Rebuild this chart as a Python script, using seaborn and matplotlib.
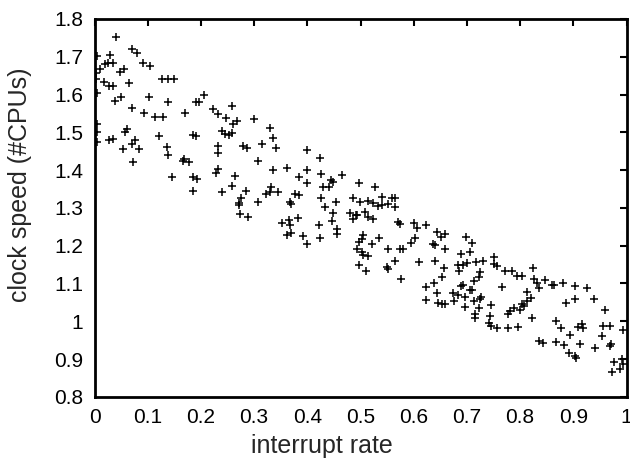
import numpy as np
import matplotlib
matplotlib.use("Agg")
import matplotlib.pyplot as plt
import seaborn as sns
from matplotlib.ticker import FuncFormatter

# values
interrupt_rate = [
    0.040, 0.004, 0.029, 0.070, 0.079, 0.010, 0.020, 0.026, 0.034, 0.003,
    0.003, 0.017, 0.047, 0.055, 0.091, 0.104, 0.027, 0.035, 0.064, 0.127,
    0.138, 0.149, 0.004, 0.039, 0.050, 0.070, 0.103, 0.138, 0.093, 0.114,
    0.128, 0.171, 0.191, 0.197, 0.205, 0.223, 0.233, 0.247, 0.258, 0.261,
    0.267, 0.299, 0.004, 0.004, 0.004, 0.027, 0.035, 0.057, 0.061, 0.054,
    0.071, 0.076, 0.084, 0.072, 0.122, 0.136, 0.138, 0.145, 0.166, 0.169,
    0.178, 0.185, 0.191, 0.185, 0.192, 0.185, 0.233, 0.233, 0.239, 0.245,
    0.253, 0.258, 0.228, 0.233, 0.264, 0.259, 0.239, 0.279, 0.286, 0.307,
    0.314, 0.330, 0.336, 0.342, 0.336, 0.361, 0.385, 0.400, 0.400, 0.400,
    0.424, 0.425, 0.430, 0.441, 0.444, 0.449, 0.466, 0.485, 0.497, 0.453,
    0.425, 0.376, 0.385, 0.367, 0.332, 0.322, 0.330, 0.345, 0.285, 0.275,
    0.272, 0.308,
    0.272, 0.274, 0.289, 0.369, 0.353, 0.366, 0.367, 0.383, 0.362, 0.369,
    0.392, 0.400, 0.424, 0.422, 0.433, 0.446, 0.449, 0.456, 0.456, 0.480,
    0.485, 0.492, 0.493, 0.498, 0.498,
    0.527, 0.541, 0.560, 0.564,
    0.499, 0.515, 0.524, 0.533, 0.540, 0.552, 0.565,
    0.493, 0.508, 0.515, 0.524, 0.571, 0.574, 0.601, 0.606, 0.623, 0.602,
    0.595, 0.643, 0.651, 0.659, 0.637, 0.640, 0.659, 0.640, 0.656, 0.654,
    0.639, 0.643, 0.623, 0.623, 0.645, 0.653, 0.659, 0.673, 0.676, 0.683,
    0.689, 0.692, 0.696, 0.696, 0.706, 0.709, 0.714, 0.716, 0.716, 0.725,
    0.727, 0.723, 0.743, 0.745, 0.742, 0.745, 0.756, 0.778, 0.796, 0.778,
    0.781, 0.789, 0.800, 0.803, 0.808, 0.812, 0.821, 0.812, 0.823, 0.836,
    0.843, 0.867, 0.883, 0.891, 0.903, 0.905, 0.894, 0.913, 0.941, 0.867,
    0.876, 0.886, 0.903, 0.908, 0.917, 0.919, 0.953, 0.955, 0.969, 0.959,
    0.939, 0.925, 0.903, 0.881, 0.864, 0.859, 0.846, 0.836, 0.831, 0.824,
    0.826, 0.794, 0.803, 0.784, 0.772, 0.756, 0.750, 0.731, 0.717, 0.750,
    0.765, 0.725, 0.723, 0.714, 0.706, 0.709, 0.698, 0.689, 0.683, 0.686,
    0.701, 0.693, 0.609, 0.577, 0.552, 0.549, 0.552, 0.564, 0.502, 0.505,
    0.502, 0.505, 0.514, 0.510, 0.521, 0.535, 0.574, 0.580, 0.994, 0.991,
    0.994, 0.977, 0.972, 0.988, 0.969, 0.971,
]
clock_speed = [
    1.752, 1.702, 1.705, 1.720, 1.711, 1.667, 1.681, 1.683, 1.684, 1.656,
    1.641, 1.634, 1.660, 1.667, 1.684, 1.676, 1.622, 1.622, 1.630, 1.640,
    1.640, 1.640, 1.603, 1.583, 1.594, 1.565, 1.594, 1.581, 1.550, 1.541,
    1.541, 1.552, 1.581, 1.581, 1.599, 1.562, 1.548, 1.537, 1.570, 1.522,
    1.530, 1.535, 1.522, 1.502, 1.475, 1.480, 1.482, 1.500, 1.508, 1.455,
    1.468, 1.480, 1.455, 1.422, 1.490, 1.460, 1.440, 1.381, 1.425, 1.429,
    1.421, 1.493, 1.490, 1.381, 1.376, 1.345, 1.465, 1.446, 1.504, 1.495,
    1.493, 1.499, 1.393, 1.402, 1.384, 1.358, 1.341, 1.464, 1.459, 1.425,
    1.468, 1.511, 1.486, 1.459, 1.400, 1.405, 1.383, 1.453, 1.400, 1.367,
    1.431, 1.391, 1.354, 1.354, 1.374, 1.369, 1.387, 1.327, 1.365, 1.316,
    1.325, 1.338, 1.334, 1.316, 1.356, 1.336, 1.343, 1.341, 1.345, 1.327,
    1.312, 1.316,
    1.308, 1.284, 1.275, 1.309, 1.261, 1.268, 1.255, 1.272, 1.228, 1.233,
    1.226, 1.204, 1.221, 1.256, 1.303, 1.266, 1.287, 1.244, 1.231, 1.287,
    1.270, 1.281, 1.191, 1.210, 1.150,
    1.356, 1.330, 1.327, 1.327,
    1.316, 1.318, 1.312, 1.306, 1.308, 1.310, 1.303,
    1.281, 1.290, 1.277, 1.270, 1.263, 1.257, 1.259, 1.246, 1.255, 1.221,
    1.208, 1.237, 1.224, 1.231, 1.204, 1.202, 1.190, 1.160, 1.140, 1.118,
    1.100, 1.075, 1.090, 1.056, 1.049, 1.047, 1.045, 1.075, 1.054, 1.069,
    1.093, 1.096, 1.065, 1.037, 1.083, 1.084, 1.053, 1.018, 1.008, 1.058,
    1.063, 1.036, 1.014, 1.043, 0.996, 0.987, 0.981, 0.983, 0.984, 1.018,
    1.028, 1.034, 1.031, 1.045, 1.040, 1.054, 1.062, 1.078, 1.008, 0.947,
    0.943, 0.946, 0.937, 0.915, 0.908, 0.904, 0.965, 0.939, 0.930, 1.002,
    0.981, 1.049, 1.060, 0.984, 0.992, 0.981, 0.961, 0.988, 0.988, 1.030,
    1.060, 1.087, 1.093, 1.102, 1.097, 1.097, 1.109, 1.087, 1.100, 1.140,
    1.113, 1.120, 1.120, 1.134, 1.134, 1.147, 1.151, 1.160, 1.156, 1.170,
    1.090, 1.131, 1.118, 1.106, 1.184, 1.208, 1.222, 1.177, 1.150, 1.133,
    1.153, 1.149, 1.157, 1.113, 1.191, 1.143, 1.138, 1.160, 1.219, 1.228,
    1.182, 1.175, 1.173, 1.133, 1.204, 1.221, 1.191, 1.191, 0.977, 0.899,
    0.887, 0.893, 0.866, 0.873, 0.934, 0.939,
]

x_ticks = [0, 0.1, 0.2, 0.3, 0.4, 0.5, 0.6, 0.7, 0.8, 0.9, 1]
y_ticks = [0.8, 0.9, 1, 1.1, 1.2, 1.3, 1.4, 1.5, 1.6, 1.7, 1.8]

sns.set_style("white")
plt.rcParams['font.family'] = ['Liberation Sans', 'DejaVu Sans']

fig = plt.figure(figsize=(6.3, 4.62), dpi=100)
ax = fig.add_axes([0.150, 0.141, 0.8445, 0.818])

sns.scatterplot(x=interrupt_rate, y=clock_speed, marker='+', color='black',
                s=28, linewidth=1.1, ax=ax)

ax.set_xlim(0, 1)
ax.set_ylim(0.8, 1.8)
ax.set_xticks(x_ticks)
ax.set_yticks(y_ticks)
fmt = FuncFormatter(lambda v, p: '%g' % round(v, 2))
ax.xaxis.set_major_formatter(fmt)
ax.yaxis.set_major_formatter(fmt)
ax.tick_params(direction='in', length=5, width=1.5, top=True, right=True,
               labelsize=15, colors='black', pad=8)
for s in ax.spines.values():
    s.set_linewidth(2)
    s.set_color('black')

ax.set_xlabel('interrupt rate', fontsize=18)
ax.set_ylabel('clock speed (#CPUs)', fontsize=18)
ax.xaxis.set_label_coords(0.428, -0.098)
ax.xaxis.label.set_va('top')
ax.yaxis.set_label_coords(-0.118, 0.562)

fig.savefig('out.png', dpi=100)
